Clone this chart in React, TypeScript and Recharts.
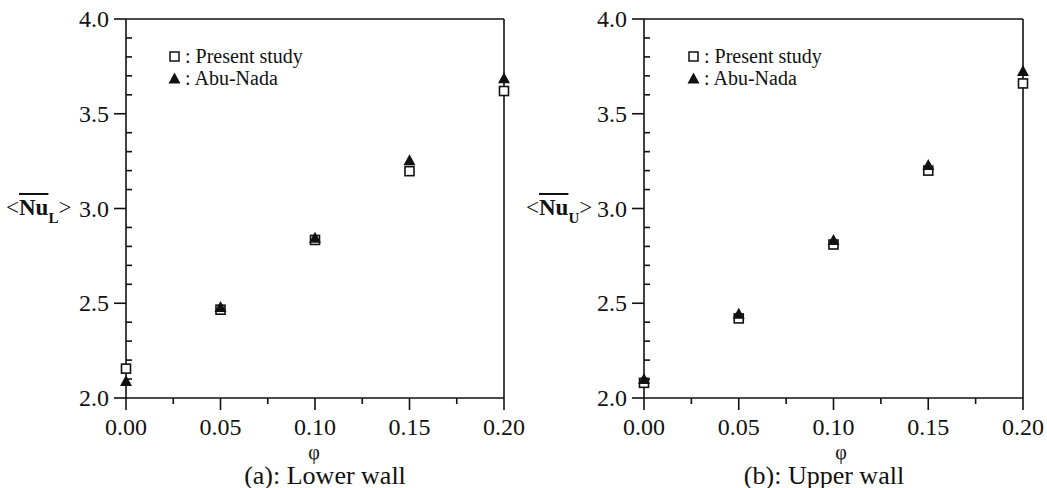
import React from "react";
import { ScatterChart, Scatter, XAxis, YAxis } from "recharts";

const phi = [0, 0.05, 0.1, 0.15, 0.2];
const lowerPresent = [2.155, 2.466, 2.834, 3.197, 3.62];
const lowerAbuNada = [2.09, 2.48, 2.846, 3.255, 3.687];
const upperPresent = [2.08, 2.42, 2.81, 3.2, 3.66];
const upperAbuNada = [2.1, 2.445, 2.834, 3.23, 3.725];

const xTicks = [0, 0.025, 0.05, 0.075, 0.1, 0.125, 0.15, 0.175, 0.2];
const yTicks = [2.0, 2.1, 2.2, 2.3, 2.4, 2.5, 2.6, 2.7, 2.8, 2.9, 3.0, 3.1, 3.2, 3.3, 3.4, 3.5, 3.6, 3.7, 3.8, 3.9, 4.0];

const FONT = "'Liberation Serif', 'DejaVu Serif', serif";
const INK = "#111";
const SW = 1.6;

const isMajor = (v: number, step: number) => Math.abs(v / step - Math.round(v / step)) < 1e-6;

function BottomTick(props: any) {
  const { x, y, payload } = props;
  const v = payload.value as number;
  const major = isMajor(v, 0.05);
  return (
    <g>
      <line x1={x} x2={x} y1={y} y2={y + (major ? 12 : 6)} stroke={INK} strokeWidth={SW} />
      {major && (
        <text x={x} y={y + 37} textAnchor="middle" fontSize={24} fontFamily={FONT} fill={INK}>
          {v.toFixed(2)}
        </text>
      )}
    </g>
  );
}

function TopTick(props: any) {
  const { x, y } = props;
  return <line x1={x} x2={x} y1={y} y2={y - 6} stroke={INK} strokeWidth={SW} />;
}

function LeftTick(props: any) {
  const { x, y, payload } = props;
  const v = payload.value as number;
  const major = isMajor(v, 0.5);
  if (!major) return <line x1={x} x2={x + 6} y1={y} y2={y} stroke={INK} strokeWidth={SW} />;
  return (
    <g>
      <line x1={x - 12} x2={x} y1={y} y2={y} stroke={INK} strokeWidth={SW} />
      <text x={x - 17} y={y + 8} textAnchor="end" fontSize={24} fontFamily={FONT} fill={INK}>
        {v.toFixed(1)}
      </text>
    </g>
  );
}

function RightTick(props: any) {
  const { x, y } = props;
  return <line x1={x} x2={x + 7} y1={y} y2={y} stroke={INK} strokeWidth={SW} />;
}

function SquareDot(props: any) {
  const { cx, cy } = props;
  return <rect x={cx - 4.5} y={cy - 4.5} width={9} height={9} fill="#fff" stroke={INK} strokeWidth={1.6} />;
}

function TriangleDot(props: any) {
  const { cx, cy } = props;
  return <path d={`M${cx},${cy - 6} L${cx + 6},${cy + 5} L${cx - 6},${cy + 5} Z`} fill={INK} />;
}

function LegendBox({ left }: { left: number }) {
  return (
    <div
      style={{
        position: "absolute",
        left,
        top: 45,
        fontFamily: FONT,
        fontSize: 20,
        color: INK,
        lineHeight: "22px",
      }}
    >
      <div style={{ display: "flex", alignItems: "center" }}>
        <svg width={14} height={14} style={{ marginRight: 3 }}>
          <rect x={2} y={3} width={9} height={9} fill="#fff" stroke={INK} strokeWidth={1.5} />
        </svg>
        <span>: Present study</span>
      </div>
      <div style={{ display: "flex", alignItems: "center" }}>
        <svg width={14} height={14} style={{ marginRight: 3 }}>
          <path d="M6.5,1.5 L12.5,12.5 L0.5,12.5 Z" fill={INK} />
        </svg>
        <span>: Abu-Nada</span>
      </div>
    </div>
  );
}

function Panel({
  present,
  abuNada,
  left,
  width,
  marginLeft,
  marginRight,
}: {
  present: number[];
  abuNada: number[];
  left: number;
  width: number;
  marginLeft: number;
  marginRight: number;
}) {
  const presentData = phi.map((p, i) => ({ phi: p, nu: present[i] }));
  const abuData = phi.map((p, i) => ({ phi: p, nu: abuNada[i] }));
  return (
    <div style={{ position: "absolute", left, top: 0 }}>
      <ScatterChart
        width={width}
        height={488}
        margin={{ top: 18, right: marginRight - 1, bottom: 89, left: marginLeft - 1 }}
      >
        <XAxis
          xAxisId="b"
          type="number"
          dataKey="phi"
          domain={[0, 0.2]}
          ticks={xTicks}
          interval={0}
          height={1}
          tickSize={0}
          tickMargin={0}
          tickLine={false}
          tick={<BottomTick />}
          axisLine={{ stroke: INK, strokeWidth: SW }}
        />
        <XAxis
          xAxisId="t"
          orientation="top"
          type="number"
          dataKey="phi"
          domain={[0, 0.2]}
          ticks={xTicks}
          interval={0}
          height={1}
          tickSize={0}
          tickMargin={0}
          tickLine={false}
          tick={<TopTick />}
          axisLine={{ stroke: INK, strokeWidth: SW }}
        />
        <YAxis
          yAxisId="l"
          type="number"
          dataKey="nu"
          domain={[2, 4]}
          ticks={yTicks}
          interval={0}
          width={1}
          tickSize={0}
          tickMargin={0}
          tickLine={false}
          tick={<LeftTick />}
          axisLine={{ stroke: INK, strokeWidth: SW }}
        />
        <YAxis
          yAxisId="r"
          orientation="right"
          type="number"
          dataKey="nu"
          domain={[2, 4]}
          ticks={yTicks}
          interval={0}
          width={1}
          tickSize={0}
          tickMargin={0}
          tickLine={false}
          tick={<RightTick />}
          axisLine={{ stroke: INK, strokeWidth: SW }}
        />
        <Scatter
          name="Present study"
          xAxisId="b"
          yAxisId="l"
          data={presentData}
          shape={SquareDot as any}
          isAnimationActive={false}
        />
        <Scatter
          name="Abu-Nada"
          xAxisId="b"
          yAxisId="l"
          data={abuData}
          shape={TriangleDot as any}
          isAnimationActive={false}
        />
      </ScatterChart>
    </div>
  );
}

function NuLabel({ sub, left }: { sub: string; left: number }) {
  return (
    <div
      style={{
        position: "absolute",
        left,
        top: 194,
        fontFamily: FONT,
        fontSize: 23,
        color: INK,
        whiteSpace: "nowrap",
        lineHeight: "28px",
      }}
    >
      <span>&lt;</span>
      <span style={{ fontWeight: "bold", textDecoration: "overline" }}>Nu</span>
      <span style={{ fontWeight: "bold", fontSize: 15, position: "relative", top: 8 }}>{sub}</span>
      <span>&gt;</span>
    </div>
  );
}

function TextAt({
  x,
  top,
  size,
  lh,
  children,
}: {
  x: number;
  top: number;
  size: number;
  lh: number;
  children: React.ReactNode;
}) {
  return (
    <div
      style={{
        position: "absolute",
        left: x - 150,
        width: 300,
        top,
        textAlign: "center",
        fontFamily: FONT,
        fontSize: size,
        color: INK,
        lineHeight: `${lh}px`,
      }}
    >
      {children}
    </div>
  );
}

export default function App() {
  return (
    <div style={{ position: "absolute", left: 0, top: 0, width: 1047, height: 488, background: "#fff", overflow: "hidden" }}>
      <Panel present={lowerPresent} abuNada={lowerAbuNada} left={0} width={530} marginLeft={126} marginRight={26} />
      <Panel present={upperPresent} abuNada={upperAbuNada} left={520} width={527} marginLeft={124} marginRight={24} />
      <LegendBox left={168} />
      <LegendBox left={687} />
      <NuLabel sub="L" left={6} />
      <NuLabel sub="U" left={526} />
      <TextAt x={314} top={443} size={20} lh={18}>φ</TextAt>
      <TextAt x={841} top={443} size={20} lh={18}>φ</TextAt>
      <TextAt x={325} top={464} size={26} lh={23}>(a): Lower wall</TextAt>
      <TextAt x={824} top={464} size={26} lh={23}>(b): Upper wall</TextAt>
    </div>
  );
}
